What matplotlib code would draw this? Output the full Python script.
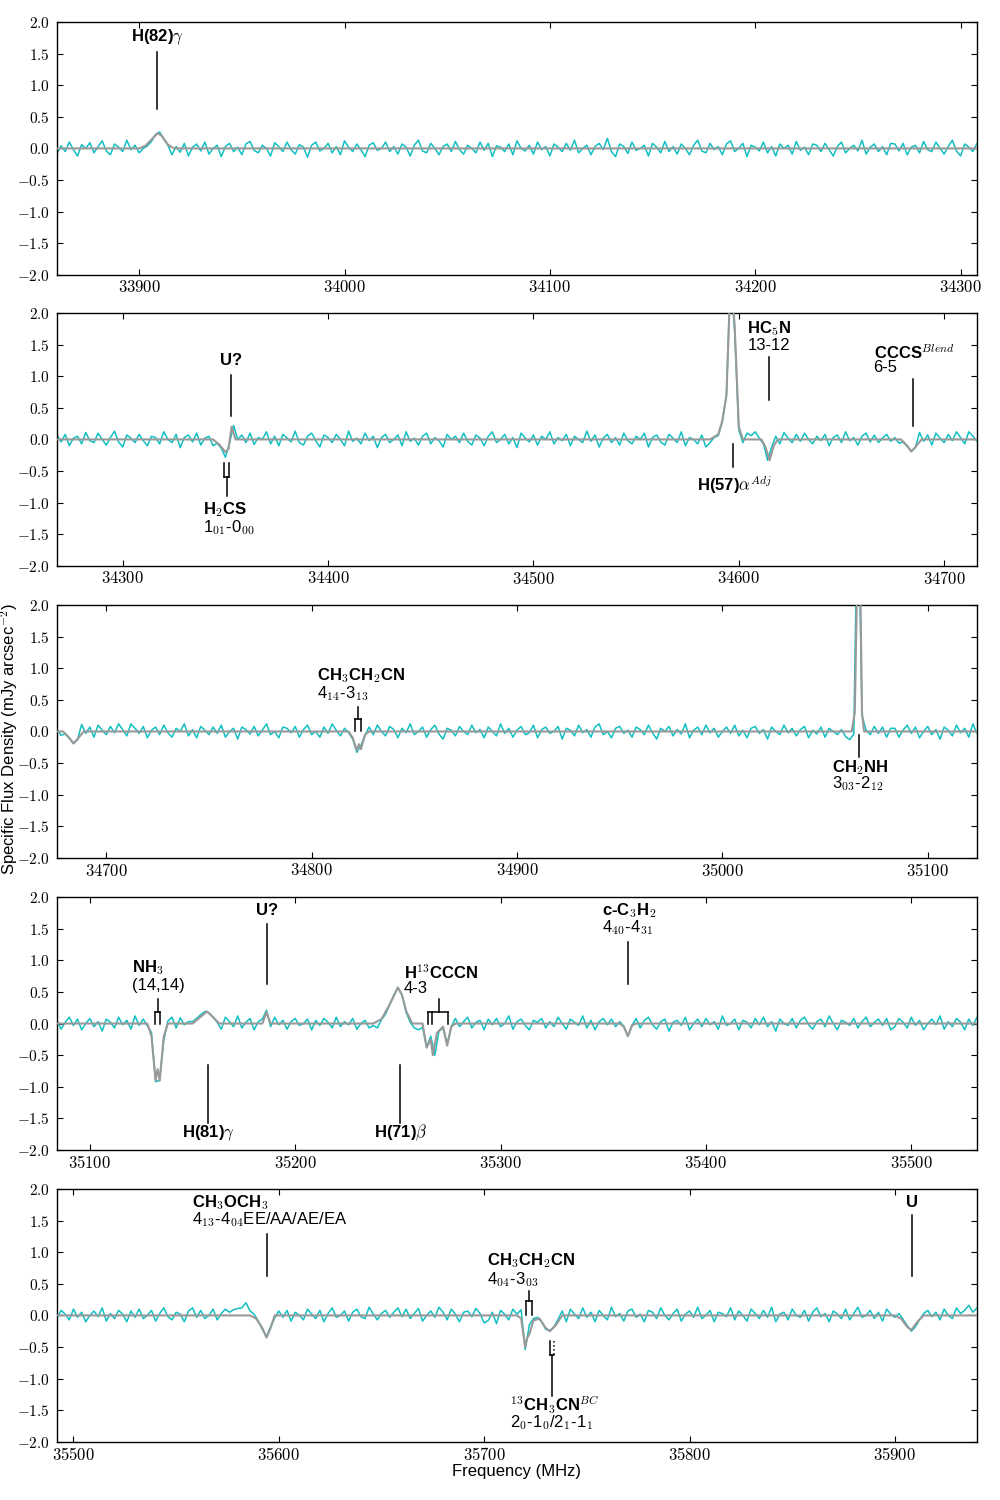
import numpy as np
import matplotlib
matplotlib.use('Agg')
import matplotlib.pyplot as plt

plt.rcParams['font.family'] = ['Liberation Sans', 'DejaVu Sans']
plt.rcParams['mathtext.fontset'] = 'cm'

# Observed spectrum, 2 MHz channels, in units of 0.01 mJy arcsec^-2
f_start = 33860.0
chan = 2.0

seg1 = [-8, 4, -5, 10, -2, -12, 6, 0, 9, -7, 3, 12, -4, -10, 7, 2, -5, 13, -2, 5,
        -7, 0, 4, 11, 22, 26, 15, 5, -10, 3, -6, 8, -12, 2, 7, -4, 10, -9, 0, 5,
        -13, 3, 8, -5, 2, -10, 7, 11, -3, -7, 5, 0, -12, 9, 3, -5, 10, -2, -9, 6,
        2, -14, 5, 10, -4, 0, 8, -7, 3, -10, 12, 2, -5, 7, -2, -13, 5, 9, -3, 0,
        10, -5, 3, -9, 7, 2, -12, 5, 13, -4, -7, 8, 0, -10, 3, 7, -5, 11, -2, -9,
        5, 0, -7, 10, -3, 8, -13, 4, 2, -5, 7, -10, 12, 0, -4, 5, -9, 10, -2, 3,
        -12, 7, 2, -5, 8, -3, 13, -7, 0, 5, -10, 3, 8, -2, 16, -5, -13, 7, 3, -8,
        10, -3, 0, 5, -12, 8, 2, -7, 11, -5, 3, -9, 7, 0, -10, 5, 13, -4, -7, 8,
        -2, 3, -10, 7, 12, -5, 0, 8, -13, 5, 2, -4, 10, -7, 3, -12, 7, 0, 5, -9,
        11, -3, 2, -10, 7, 5, -5, 8, -2, -12, 3, 10, -7, 0, 5, -4, 13, -9, 2, 7,
        -5, 3, -10, 8]
seg2 = [7, -4, 8, -10, 2, 5, -7, 11, -2, -5, 10, 0, -9, 3, 13, -4, -12, 7, 2, -5,
        8, -2, -10, 5, 3, -7, 12, 0, -5, 8, -13, 3, 7, -4, 10, -9, 2, 5, -10, -6,
        -14, -28, -6, 22, 0, 7, -5, 10, -8, 3, 0, 12, -7, 5, -10, 8, 2, -4, 13, -5,
        -9, 5, 10, -2, -12, 7, 3, -5, 8, 0, -10, 13, -3, 2, -7, 10, -2, 5, -13, 3,
        8, -5, 0, 7, -10, 12, -3, 2, -9, 5, 10, -7, 3, -2, -12, 8, 0, 5, -5, 10,
        -3, -9, 7, 2, -10, 5, 12, -5, 0, 8, -7, 3, -13, 10, 2, -4, 7, -9, 5, 0,
        12, -7, 3, -2, 8, -10, 5, 0, -5, 13, -3, 7, -12, 2, 8, -5, 3, -9, 10, -2,
        -7, 5, 0, 10, -12, 3, 7, -4, -9, 8, 2, -5, 12, -10, 3, 0, -7, 7, -12, -5,
        3, 6, 28, 70, 260, 170, 15, -5, 10, 6, 12, 2, -7, -33, -12, 5, -7, 11, 2, -5,
        8, -3, 10, 0, -7, 5, -2, 8, -10, 3, 7, -5, 12, -2, 3, -9, 5, 10, -4, 7,
        -5, 2, 8, -3]
seg3 = [3, -6, -4, -11, -19, -13, 11, -3, 7, -9, 10, 2, -5, 8, -2, 12, 3, -7, 12, 5,
        -3, 8, -10, 2, 7, -5, 10, -2, -9, 5, 0, 12, -7, 3, -10, 8, 2, -5, 7, -3,
        10, -9, 0, 5, -12, 7, 3, -4, 8, -7, 2, 12, -5, 0, -10, 7, 5, -2, 8, -9,
        3, 10, -5, 0, -9, 7, -3, 12, 2, -7, 5, -2, -12, -33, -22, -6, 7, -5, 10, 0,
        -7, 8, 3, -10, 5, -2, 12, -5, 0, 7, -9, 3, 10, -4, -12, 5, 2, -7, 8, 0,
        -5, 10, -2, 3, -10, 7, 0, -7, 12, -3, 5, -9, 2, 8, -5, -2, 10, -10, 3, 7,
        -3, 0, 8, -12, 5, 2, -7, 10, -2, 3, -9, 7, 12, -5, 0, -10, 5, 8, -3, 2,
        -9, 7, 3, -5, 10, -2, -12, 5, 0, 8, -7, 3, -4, 12, -10, 2, 7, -5, 10, -2,
        5, -9, 0, 7, -3, 10, -7, 2, -10, 5, 8, -3, 3, -12, 7, 0, -5, 10, -2, 5,
        -7, 3, 8, -10, 2, -4, 7, -9, 5, 0, -5, 3, -8, -13, -4, 400, 25, 2, -5, 8,
        -3, 7, -9, 5]
seg4 = [5, -9, 2, 10, -3, 7, -10, 0, 8, -5, 3, -12, 7, 2, -7, 10, -2, 5, -9, 12,
        -3, 7, -4, -14, -92, -90, -26, 4, 10, -7, 9, -2, 3, 3, 8, 14, 19, 17, 10, 2,
        -9, 10, 3, -5, 12, -7, 2, 8, -10, 3, 7, 21, -5, 10, -2, 5, -9, 3, 8, -3,
        0, 7, -10, 5, -3, 8, 2, -7, 10, -5, 3, -2, 8, -9, 0, 5, -7, -3, -7, 6,
        15, 30, 45, 57, 45, 18, 2, -7, -10, -6, -38, -20, -50, -12, -7, -32, -5, 8, -5, 3,
        10, -7, 2, 5, -10, 7, -2, 8, -5, 0, 12, -9, 3, 7, -3, -10, 5, 2, 8, -7,
        3, -5, 10, 0, -9, 7, 2, -3, 12, -7, 5, -10, 3, 8, -2, 7, -5, 3, -4, -20,
        -3, 8, -7, 5, 10, -2, -9, 3, 7, -12, 2, 5, -3, 10, -10, 0, 7, -5, 8, -2,
        3, -9, 12, -3, 0, 7, -10, 5, 2, -7, 8, -2, 10, -5, 3, -12, 7, 0, -3, 8,
        -7, 5, 10, -2, -9, 3, 7, -5, 12, 0, -10, 5, 2, -3, 8, -7, 3, 10, -5, 2,
        7, -3, 8, -10]
seg5 = [-5, 8, 2, -7, 10, -3, 5, -10, 0, 7, -2, 12, -9, 3, -5, 8, 2, -10, 7, -3,
        10, -5, 0, 8, -9, 3, 12, -2, -7, 5, 2, -10, 7, 12, -3, 8, -5, 0, 10, -7,
        3, 10, 5, 9, 11, 12, 20, 7, 2, -9, -22, -33, -18, -4, 7, -3, 8, -9, 5, 0,
        -7, 10, 2, -5, 8, -10, 3, 12, -3, 0, 7, -9, 5, 10, -2, -5, 13, 2, -7, 3,
        8, -3, 5, 12, -2, 10, -5, 3, 11, -9, 0, 7, -3, 13, 5, -7, 10, 2, -10, 5,
        7, -2, 11, 3, -12, -8, 5, -13, 8, 2, -7, 10, 2, 9, -54, -15, -5, -3, -10, -22,
        -24, -18, -6, 7, -10, 10, 2, -5, 12, -3, 5, -10, 8, 0, -7, 13, -2, 3, -9, 7,
        10, -3, 2, -10, 8, 5, -5, 12, 0, -7, 3, 10, -9, 2, 7, -3, 13, -5, 0, 8,
        -10, 5, 3, -2, 12, -7, 7, 0, -9, 10, 3, -5, 8, -3, 13, -10, 2, 5, -7, 10,
        0, -3, 8, -9, 5, 12, -2, 3, -10, 7, 2, -5, 10, -7, 3, 13, -3, 0, 8, -5,
        5, -9, 10, 2, -3, 3, -6, -16, -25, -18, -7, 3, 8, -2, 5, -7, 10, 0, -5, 12,
        3, 8, 16, 5, 12]

assert [len(s) for s in (seg1, seg2, seg3, seg4, seg5)] == [204, 204, 204, 204, 225]

# Fitted model (frequency in MHz, flux in mJy arcsec^-2)
model_freq = [33860, 33900, 33903, 33906, 33909, 33911, 33914, 33917,
              34344, 34347, 34350, 34351.5, 34353, 34355,
              34586, 34590, 34592, 34594, 34596, 34598, 34600, 34602,
              34611, 34613, 34615, 34617, 34619,
              34679, 34682, 34684, 34686, 34689,
              34818, 34820, 34822, 34823, 34824, 34826, 34828,
              35063, 35064.5, 35066.5, 35068, 35069,
              35128, 35130, 35132, 35133, 35134, 35136, 35138,
              35150, 35153, 35157, 35160, 35163,
              35184, 35186, 35188,
              35238, 35242, 35246, 35250, 35252, 35254, 35257,
              35262, 35264, 35266, 35267, 35269, 35272, 35274, 35276, 35278,
              35358, 35360, 35362, 35364, 35366,
              35586, 35589, 35592, 35594, 35596, 35598,
              35716, 35718, 35720, 35721, 35722, 35724, 35727, 35730, 35732, 35735, 35738,
              35900, 35903, 35906, 35908, 35911, 35914, 35940]
model_flux = [0, 0, 0.04, 0.14, 0.24, 0.2, 0.06, 0,
              0, -0.08, -0.2, -0.15, 0.2, 0,
              0, 0.08, 0.3, 0.7, 2.6, 1.8, 0.2, 0,
              0, -0.12, -0.33, -0.1, 0,
              0, -0.1, -0.19, -0.12, 0,
              0, -0.1, -0.3, -0.2, -0.28, -0.05, 0,
              0, 0.3, 4.0, 0.3, 0,
              0, -0.2, -0.9, -0.72, -0.9, -0.2, 0,
              0, 0.08, 0.19, 0.1, 0,
              0, 0.18, 0,
              0, 0.07, 0.3, 0.57, 0.45, 0.2, 0,
              0, -0.38, -0.25, -0.5, -0.15, -0.05, -0.35, -0.05, 0,
              0, -0.05, -0.2, -0.03, 0,
              0, -0.05, -0.2, -0.35, -0.2, 0,
              0, -0.05, -0.5, -0.35, -0.3, -0.08, -0.05, -0.2, -0.25, -0.15, 0,
              0, -0.05, -0.18, -0.23, -0.1, 0, 0]

panel_start = [33860, 34268, 34676, 35084, 35492]
panel_width = 448

# Line identifications per panel
labels = [
    [dict(kind='up', x=33908.7, y=(0.62, 1.52), tx=33896, ty=[1.75], text=[r'H(82)$\gamma$'])],
    [dict(kind='up', x=34352.8, y=(0.37, 1.02), tx=34352.8, ty=[1.24], text=['U?'], ha='center'),
     dict(kind='cup', legs=[34349.4, 34351.8], x=34350.6, y=(-0.38, -0.59, -0.89),
          tx=34339.1, ty=[-1.11, -1.40], text=[r'H$_2$CS', r'1$_{01}$-0$_{00}$']),
     dict(kind='up', x=34597, y=(-0.08, -0.43), tx=34579.8, ty=[-0.71], text=[r'H(57)$\alpha^{Adj}$']),
     dict(kind='up', x=34614.9, y=(0.63, 1.30), tx=34604.2, ty=[1.75, 1.49], text=[r'HC$_5$N', '13-12']),
     dict(kind='up', x=34684.6, y=(0.21, 0.95), tx=34665.6, ty=[1.38, 1.13], text=[r'CCCS$^{Blend}$', '6-5'])],
    [dict(kind='cap', legs=[34821.2, 34824.1], x=34822.7, y=(0.0, 0.19, 0.38),
          tx=34802.7, ty=[0.89, 0.60], text=[r'CH$_3$CH$_2$CN', r'4$_{14}$-3$_{13}$']),
     dict(kind='up', x=35066.7, y=(-0.05, -0.40), tx=35053.6, ty=[-0.57, -0.83], text=[r'CH$_2$NH', r'3$_{03}$-2$_{12}$'])],
    [dict(kind='cap', legs=[35131.6, 35134.2], x=35133.0, y=(0.0, 0.19, 0.38),
          tx=35120.4, ty=[0.89, 0.60], text=[r'NH$_3$', '(14,14)']),
     dict(kind='up', x=35157.3, y=(-0.65, -1.57), tx=35144.7, ty=[-1.73], text=[r'H(81)$\gamma$']),
     dict(kind='up', x=35186.2, y=(0.62, 1.57), tx=35186.2, ty=[1.78], text=['U?'], ha='center'),
     dict(kind='up', x=35251.0, y=(-0.65, -1.57), tx=35238.3, ty=[-1.73], text=[r'H(71)$\beta$']),
     dict(kind='cap', legs=[35264.9, 35266.5, 35274.6], x=35270.2, y=(0.0, 0.19, 0.38),
          tx=35252.8, ty=[0.81, 0.55], text=[r'H$^{13}$CCCN', '4-3']),
     dict(kind='up', x=35361.9, y=(0.62, 1.29), tx=35349.4, ty=[1.78, 1.52], text=[r'c-C$_3$H$_2$', r'4$_{40}$-4$_{31}$'])],
    [dict(kind='up', x=35594.5, y=(0.63, 1.29), tx=35557.8, ty=[1.79, 1.52],
          text=[r'CH$_3$OCH$_3$', r'4$_{13}$-4$_{04}$EE/AA/AE/EA']),
     dict(kind='cap', legs=[35720.2, 35723.2], x=35722.0, y=(0.0, 0.23, 0.39),
          tx=35701.2, ty=[0.86, 0.57], text=[r'CH$_3$CH$_2$CN', r'4$_{04}$-3$_{03}$']),
     dict(kind='cup', legs=[35732.0, 35734.2], x=35733.1, y=(-0.41, -0.62, -1.28), dotted=True,
          tx=35712.8, ty=[-1.41, -1.69], text=[r'$^{13}$CH$_3$CN$^{BC}$', r'2$_0$-1$_0$/2$_1$-1$_1$']),
     dict(kind='up', x=35908.3, y=(0.62, 1.58), tx=35908.3, ty=[1.78], text=['U'], ha='center')],
]

flux = np.array(seg1 + seg2 + seg3 + seg4 + seg5) / 100.0
freq = f_start + chan * np.arange(len(flux))

fig = plt.figure(figsize=(10, 15), dpi=100)
bottoms = [0.8167, 0.6227, 0.428, 0.2333, 0.0387]

for i, x0 in enumerate(panel_start):
    ax = fig.add_axes([0.057, bottoms[i], 0.92, 0.1687])
    ax.plot(freq, flux, color='#12bfc2', lw=1.1, zorder=2)
    ax.plot(model_freq, model_flux, color='0.6', lw=1.5, zorder=3)
    ax.set_xlim(x0, x0 + panel_width)
    ax.set_ylim(-2, 2)

    xt = np.arange(np.ceil(x0 / 100) * 100, x0 + panel_width, 100)
    ax.set_xticks(xt)
    ax.set_xticklabels([r'$%d$' % t for t in xt])
    yt = np.arange(-2, 2.01, 0.5)
    ax.set_yticks(yt)
    ax.set_yticklabels([r'$%.1f$' % v for v in yt])
    ax.tick_params(direction='in', top=True, right=True, length=4, width=0.8)
    ax.tick_params(axis='x', pad=3, labelsize=12)
    ax.tick_params(axis='y', pad=5, labelsize=11)
    for sp in ax.spines.values():
        sp.set_linewidth(1.0)

    for lab in labels[i]:
        k = lab['kind']
        if k == 'up':
            ax.plot([lab['x'], lab['x']], lab['y'], color='k', lw=1.1, zorder=4)
        else:
            y_leg, y_bar, y_end = lab['y']
            legs = lab['legs']
            ax.plot([legs[0], legs[-1]], [y_bar, y_bar], color='k', lw=1.1, zorder=4)
            for j, lx in enumerate(legs):
                ls = ':' if (lab.get('dotted') and j == len(legs) - 1) else '-'
                ax.plot([lx, lx], [y_leg, y_bar], color='k', lw=1.1, ls=ls, zorder=4)
            ax.plot([lab['x'], lab['x']], [y_bar, y_end], color='k', lw=1.1, zorder=4)
        ha = lab.get('ha', 'left')
        for j, (t, ty) in enumerate(zip(lab['text'], lab['ty'])):
            ax.text(lab['tx'], ty, t, ha=ha, va='center', fontsize=12,
                    fontweight='bold' if j == 0 else 'normal')

fig.text(0.009, 0.507, r'Specific Flux Density (mJy arcsec$^{-2}$)', rotation=90,
         ha='center', va='center', fontsize=12)
fig.text(0.516, 0.0187, 'Frequency (MHz)', ha='center', va='center', fontsize=12)

fig.savefig('out.png', dpi=100)
